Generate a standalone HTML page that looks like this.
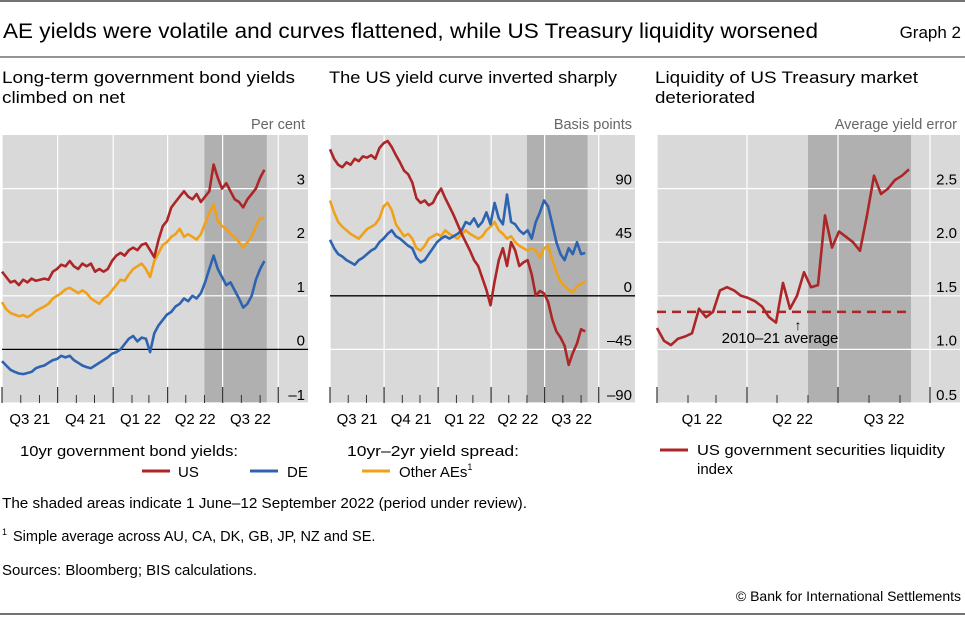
<!DOCTYPE html>
<html><head><meta charset="utf-8"><style>
html,body{margin:0;padding:0;background:#fff;}
body{width:965px;height:615px;overflow:hidden;font-family:"Liberation Sans",sans-serif;}
svg text{font-family:"Liberation Sans",sans-serif;}
</style></head><body>
<svg id="chart" width="965" height="615" viewBox="0 0 965 615" xmlns="http://www.w3.org/2000/svg">
<line x1="0" y1="1" x2="965" y2="1" stroke="#444" stroke-width="1.5"/>
<text x="3" y="38" font-size="21" fill="#000" textLength="815" lengthAdjust="spacingAndGlyphs">AE yields were volatile and curves flattened, while US Treasury liquidity worsened</text>
<text x="961" y="38" font-size="17" text-anchor="end" fill="#000">Graph 2</text>
<line x1="0" y1="57" x2="965" y2="57" stroke="#555" stroke-width="1.2"/>
<text x="2" y="83" font-size="16.5" textLength="293" lengthAdjust="spacingAndGlyphs">Long-term government bond yields</text>
<text x="2" y="103" font-size="16.5" textLength="123" lengthAdjust="spacingAndGlyphs">climbed on net</text>
<text x="329" y="83" font-size="16.5" textLength="288" lengthAdjust="spacingAndGlyphs">The US yield curve inverted sharply</text>
<text x="655" y="83" font-size="16.5" textLength="263" lengthAdjust="spacingAndGlyphs">Liquidity of US Treasury market</text>
<text x="655" y="103" font-size="16.5" textLength="100" lengthAdjust="spacingAndGlyphs">deteriorated</text>
<g id="p1"></g>
<g id="p2"></g>
<g id="p3"></g>
<g>
<text x="20" y="456" font-size="15" textLength="218" lengthAdjust="spacingAndGlyphs">10yr government bond yields:</text>
<line x1="142" y1="471" x2="170" y2="471" stroke="#ac2527" stroke-width="3"/>
<text x="178" y="477" font-size="15">US</text>
<line x1="250" y1="471" x2="278" y2="471" stroke="#2d63b0" stroke-width="3"/>
<text x="287" y="477" font-size="15">DE</text>
</g>
<g>
<text x="347" y="456" font-size="15" textLength="172" lengthAdjust="spacingAndGlyphs">10yr–2yr yield spread:</text>
<line x1="362" y1="471" x2="390" y2="471" stroke="#f0a11a" stroke-width="3"/>
<text x="399" y="477" font-size="15">Other AEs<tspan font-size="9" dy="-7">1</tspan></text>
</g>
<g>
<line x1="660" y1="450" x2="688" y2="450" stroke="#ac2527" stroke-width="3"/>
<text x="697" y="455" font-size="15" textLength="248" lengthAdjust="spacingAndGlyphs">US government securities liquidity</text>
<text x="697" y="474" font-size="15">index</text>
</g>
<text x="2" y="508" font-size="14.5" textLength="525" lengthAdjust="spacingAndGlyphs">The shaded areas indicate 1 June–12 September 2022 (period under review).</text>
<text x="2" y="541" font-size="14.5"><tspan font-size="9" dy="-6">1</tspan><tspan dy="6" dx="6">Simple average across AU, CA, DK, GB, JP, NZ and SE.</tspan></text>
<text x="2" y="575" font-size="14.5" textLength="255" lengthAdjust="spacingAndGlyphs">Sources: Bloomberg; BIS calculations.</text>
<text x="961" y="601" font-size="14" text-anchor="end">© Bank for International Settlements</text>
<line x1="0" y1="614" x2="965" y2="614" stroke="#444" stroke-width="1.5"/>
</svg>
<script>
// ---- data: panel 1 (weekly from 1 Jul 2021), per cent
var p1Weeks = 63;
var usYield = [1.45,1.35,1.25,1.28,1.2,1.3,1.25,1.32,1.28,1.3,1.32,1.3,1.45,
1.5,1.58,1.55,1.65,1.55,1.5,1.6,1.55,1.6,1.45,1.5,1.45,1.5,
1.65,1.75,1.8,1.75,1.85,1.9,1.85,1.95,1.98,1.85,1.72,2.05,2.3,
2.4,2.65,2.75,2.85,2.95,2.85,2.8,2.9,2.75,2.85,2.95,3.45,3.2,
3.0,3.1,2.95,2.8,2.75,2.65,2.8,2.9,3.0,3.2,3.35];
var deYield = [-0.22,-0.3,-0.38,-0.42,-0.45,-0.46,-0.44,-0.42,-0.35,-0.32,-0.3,-0.25,-0.2,
-0.18,-0.12,-0.15,-0.12,-0.2,-0.25,-0.3,-0.33,-0.35,-0.3,-0.25,-0.2,-0.15,
-0.08,-0.05,0.0,0.1,0.2,0.25,0.15,0.22,0.2,-0.05,0.3,0.45,0.55,
0.65,0.7,0.8,0.85,0.95,0.9,1.0,0.95,1.05,1.25,1.5,1.75,1.5,
1.35,1.2,1.25,1.1,0.95,0.78,0.85,1.0,1.3,1.5,1.65];
var otherYield = [0.88,0.75,0.68,0.65,0.62,0.64,0.6,0.65,0.72,0.76,0.8,0.85,0.95,
1.0,1.05,1.12,1.15,1.1,1.05,1.1,1.05,0.95,0.9,0.85,0.95,1.0,
1.1,1.2,1.3,1.28,1.4,1.5,1.55,1.6,1.5,1.35,1.65,1.8,1.95,
2.0,2.1,2.15,2.25,2.1,2.15,2.1,2.05,2.15,2.35,2.55,2.7,2.4,
2.3,2.25,2.15,2.1,2.0,1.9,2.0,2.1,2.3,2.45,2.45];
var p1Ticks = [-1,0,1,2,3];
// ---- data: panel 2, basis points
var usSpread = [123,115,110,108,112,110,115,113,117,116,118,115,124,
128,130,125,118,112,105,102,95,82,78,80,76,78,
85,90,82,75,68,60,52,45,38,30,25,15,5,
-8,12,30,40,25,45,38,25,28,30,18,0,4,
2,-5,-20,-30,-35,-42,-58,-48,-40,-28,-30];
var deSpread = [47,40,35,33,30,28,26,30,32,35,38,40,45,
48,52,55,50,48,45,42,40,32,28,30,35,40,
45,48,50,48,50,52,55,62,60,65,58,62,70,
60,78,65,60,85,62,60,55,52,55,48,62,70,
80,75,60,45,35,30,40,35,45,35,36];
var otherSpread = [80,70,62,58,55,52,50,48,52,56,58,60,65,
75,78,72,60,55,50,52,48,40,38,42,48,50,
52,50,55,52,50,48,52,55,52,50,48,50,55,
58,62,55,52,48,50,45,42,40,38,40,38,32,
40,42,30,20,12,8,5,3,8,10,12];
var p2Ticks = [-90,-45,0,45,90];
// ---- data: panel 3 (weekly from 1 Jan 2022), average yield error
var liquidity = [1.2,1.08,1.04,1.1,1.12,1.15,1.38,1.3,1.35,1.55,1.58,1.55,1.5,1.48,1.45,1.4,1.3,1.25,1.62,1.38,1.5,1.72,1.58,1.6,2.25,1.95,2.1,2.05,2.0,1.92,2.25,2.62,2.45,2.5,2.58,2.62,2.68];
var liquidityAvg = 1.35;
var p3Ticks = ["0.5","1.0","1.5","2.0","2.5"];
var qLabels12 = ["Q3 21","Q4 21","Q1 22","Q2 22","Q3 22"];
var qLabels3 = ["Q1 22","Q2 22","Q3 22"];

var NS="http://www.w3.org/2000/svg";
function mk(tag, attrs, parent){var e=document.createElementNS(NS,tag);for(var k in attrs)e.setAttribute(k,attrs[k]);parent.appendChild(e);return e;}
var RED="#ac2527",BLUE="#2d63b0",ORANGE="#f0a11a";

function panel(g, o){
  var x=function(d){return o.x0+d*o.pxDay;};
  var y=function(v){return o.yBot-(v-o.vMin)*(o.yBot-o.yTop)/(o.vMax-o.vMin);};
  var bg=mk('rect',{x:o.left,y:o.yTop,width:o.right-o.left,height:o.yBot-o.yTop,fill:"#d9d9d9"},g);
  
  
  var sh=mk('rect',{x:x(o.shade[0]),y:o.yTop,width:x(o.shade[1])-x(o.shade[0]),height:o.yBot-o.yTop,fill:"#b0b0b0"},g);
  
  
  o.ticks.forEach(function(t){
    var v=parseFloat(t);
    var gl=mk('line',{x1:o.left,x2:o.right,y1:y(v),y2:y(v),stroke:"#fff","stroke-width":1.2},g);
    
    
    var tl=mk('text',{x:o.right-3,y:(v===o.vMin?y(v)-3:y(v)-4),"font-size":15,"text-anchor":"end",fill:"#000"},g);
    tl.textContent=(v<0?"–"+String(t).replace("-",""):t);
    
    
  });
  o.quarters.forEach(function(d,i){
    var gl=mk('line',{x1:x(d),x2:x(d),y1:o.yTop,y2:o.yBot,stroke:"#fff","stroke-width":1.2},g);
    
    
    var tk=mk('line',{x1:x(d),x2:x(d),y1:o.yBot-16,y2:o.yBot,stroke:"#333","stroke-width":1.2},g);
    
    
  });
  o.months.forEach(function(d){
    var tk=mk('line',{x1:x(d),x2:x(d),y1:o.yBot-8,y2:o.yBot,stroke:"#333","stroke-width":1},g);
    
    
  });
  o.qLabels.forEach(function(lab,i){
    var t=mk('text',{x:(x(o.quarters[i])+x(o.quarters[i+1]))/2,y:424,"font-size":15,"text-anchor":"middle"},g);
    t.textContent=lab;
    
    
  });
  var u=mk('text',{x:o.right-3,y:129,"font-size":14.5,"text-anchor":"end",fill:"#666"},g);
  u.textContent=o.unit;
  
  
  if(o.zero){
    var z=mk('line',{x1:o.left,x2:o.right,y1:y(0),y2:y(0),stroke:"#000","stroke-width":1.3},g);
    
    
  }
  return {x:x,y:y};
}
function series(g, s, arr, color, name){
  var pts=arr.map(function(v,i){return s.x(i*7).toFixed(1)+","+s.y(v).toFixed(1);}).join(" ");
  var p=mk('polyline',{points:pts,fill:"none",stroke:color,"stroke-width":2.6,"stroke-linejoin":"round"},g);
  
  
}
var m12=[31,62,123,153,215,243,304,335,396,427];
var q12=[0,92,184,274,365,457];
var g1=document.getElementById('p1');
var s1=panel(g1,{left:2,right:308,yTop:135,yBot:403,vMin:-1,vMax:4,x0:2,pxDay:0.6045,shade:[335,438],ticks:p1Ticks,quarters:q12,months:m12,qLabels:qLabels12,unit:"Per cent",zero:true});
series(g1,s1,otherYield,ORANGE,'line-other-aes-yield');
series(g1,s1,deYield,BLUE,'line-de-yield');
series(g1,s1,usYield,RED,'line-us-yield');
var g2=document.getElementById('p2');
var s2=panel(g2,{left:330,right:635,yTop:135,yBot:403,vMin:-90,vMax:135,x0:330,pxDay:0.588,shade:[335,438],ticks:p2Ticks,quarters:q12,months:m12,qLabels:qLabels12,unit:"Basis points",zero:true});
series(g2,s2,otherSpread,ORANGE,'line-other-aes-spread');
series(g2,s2,deSpread,BLUE,'line-de-spread');
series(g2,s2,usSpread,RED,'line-us-spread');
var g3=document.getElementById('p3');
var s3=panel(g3,{left:657,right:960,yTop:135,yBot:403,vMin:0.5,vMax:3.0,x0:657,pxDay:1.0,shade:[151,254],ticks:p3Ticks,quarters:[0,90,181,273],months:[31,59,120,151,212,243],qLabels:qLabels3,unit:"Average yield error",zero:false});
var av=mk('line',{x1:657,x2:s3.x(254),y1:s3.y(liquidityAvg),y2:s3.y(liquidityAvg),stroke:RED,"stroke-width":2.6,"stroke-dasharray":"9,6"},g3);


series(g3,s3,liquidity,RED,'line-liquidity-index');
var ar=mk('text',{x:798,y:330,"font-size":14,"text-anchor":"middle"},g3);
ar.textContent="↑";


var an=mk('text',{x:780,y:343,"font-size":15,"text-anchor":"middle"},g3);
an.textContent="2010–21 average";


</script>
</body></html>
